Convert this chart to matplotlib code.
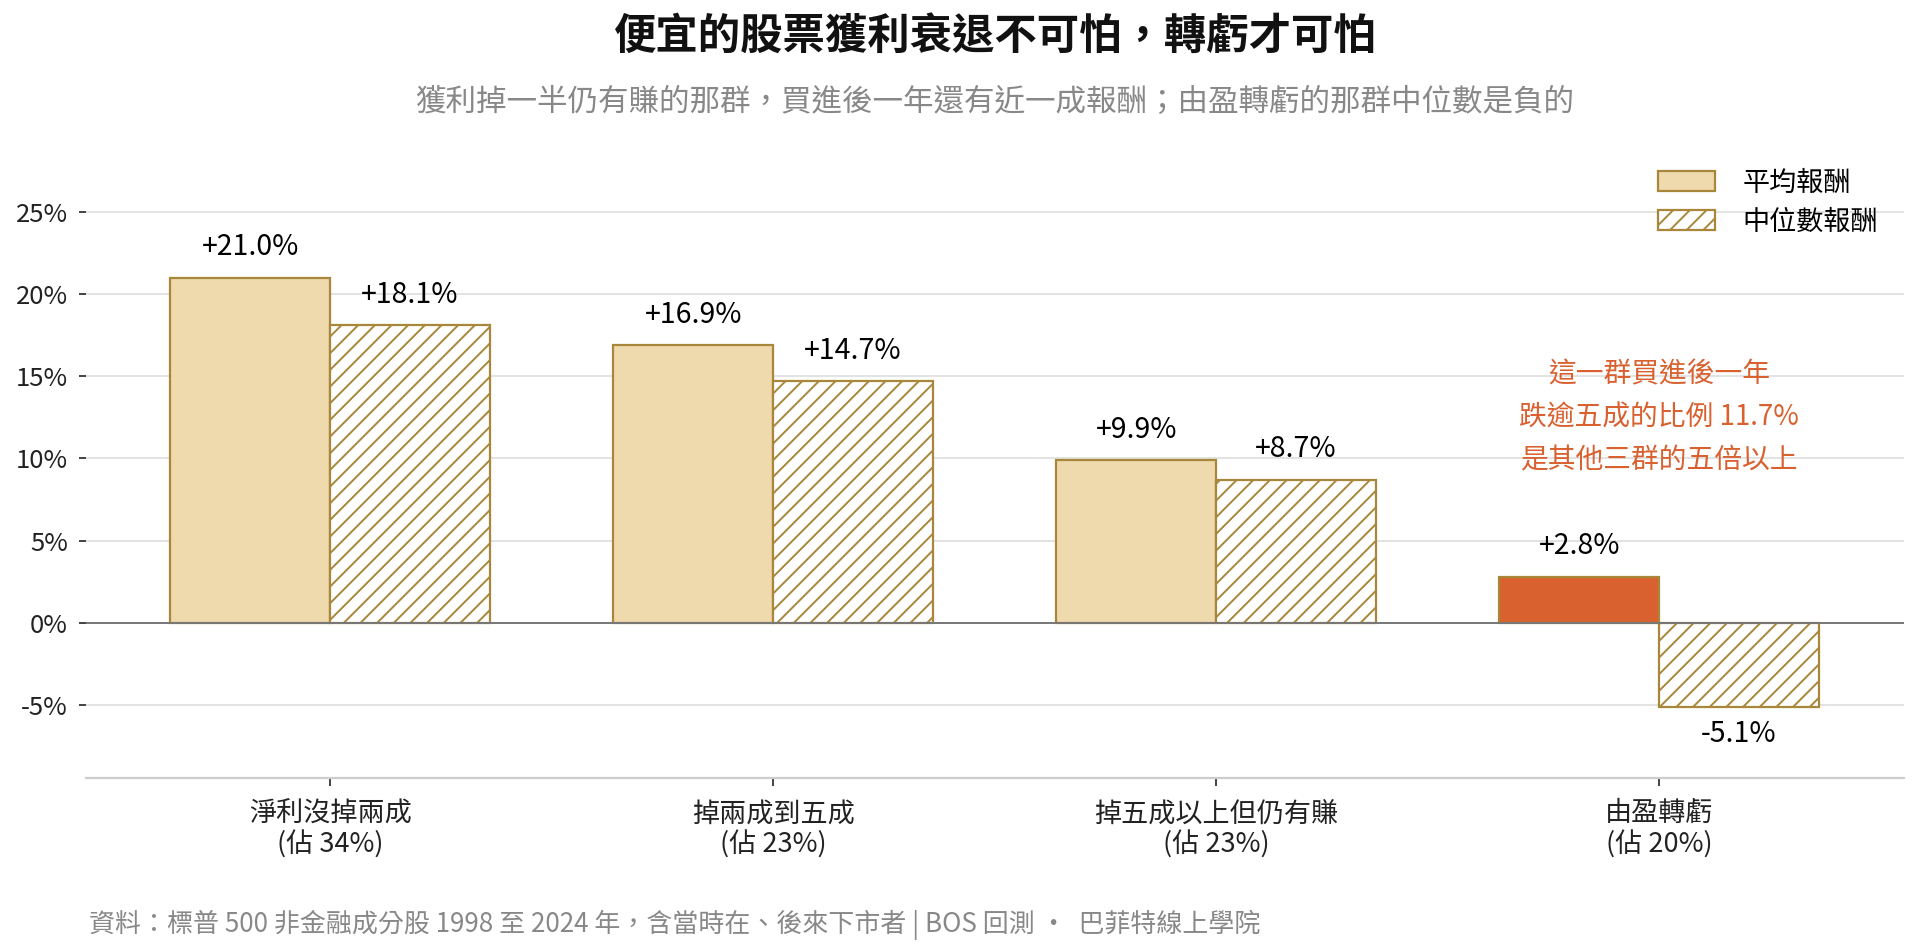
import matplotlib.pyplot as plt
import numpy as np

plt.rcParams['font.family'] = ['Noto Sans CJK TC', 'DejaVu Sans']
plt.rcParams['hatch.linewidth'] = 1.4

# datos
grupos = ['淨利沒掉兩成\n(佔 34%)', '掉兩成到五成\n(佔 23%)', '掉五成以上但仍有賺\n(佔 23%)', '由盈轉虧\n(佔 20%)']
media = [21.0, 16.9, 9.9, 2.8]
mediana = [18.1, 14.7, 8.7, -5.1]
yticks = [-5, 0, 5, 10, 15, 20, 25]

oro = '#A8863A'
beige = '#EFDAAE'
naranja = '#D8612F'

fig = plt.figure(figsize=(19.2, 9.52), dpi=100)
ax = fig.add_axes([0.0448, 0.1828, 0.9469, 0.6463])

x = np.arange(len(grupos))
ancho = 0.361

colores = [beige] * (len(media) - 1) + [naranja]
b1 = ax.bar(x - ancho / 2, media, width=ancho, color=colores, edgecolor=oro, linewidth=1.6,
            label='平均報酬', zorder=3)
b2 = ax.bar(x + ancho / 2, mediana, width=ancho, color='white', edgecolor=oro, linewidth=1.6,
            hatch='//', label='中位數報酬', zorder=3)

# etiquetas de valor
for xi, v in zip(x - ancho / 2, media):
    ax.annotate(f'{v:+.1f}%', (xi, v), xytext=(0, 22), textcoords='offset points',
                ha='center', va='center', fontsize=20.5)
for xi, v in zip(x + ancho / 2, mediana):
    off = 22 if v >= 0 else -20
    ax.annotate(f'{v:+.1f}%', (xi, v), xytext=(0, off), textcoords='offset points',
                ha='center', va='center', fontsize=20.5)

ax.axhline(0, color='#777777', linewidth=1.4, zorder=4)

ax.set_xlim(-0.551, 3.553)
ax.set_ylim(-9.45, 28)
ax.set_yticks(yticks)
ax.set_yticklabels([f'{t}%' for t in yticks])
ax.set_xticks(x)
ax.set_xticklabels(grupos, fontsize=19.5, linespacing=1.15)
ax.tick_params(axis='y', labelsize=18.5, length=5, width=1.2, pad=8, colors='#222222')
ax.tick_params(axis='x', length=6, width=1.2, pad=10, colors='#222222')
ax.grid(axis='y', color='#e0e0e0', linewidth=1.3, zorder=0)
ax.set_axisbelow(True)
for s in ['left', 'top', 'right']:
    ax.spines[s].set_visible(False)
ax.spines['bottom'].set_color('#cccccc')
ax.spines['bottom'].set_linewidth(1.6)

ax.text(3, 12.5, '這一群買進後一年\n跌逾五成的比例 11.7%\n是其他三群的五倍以上',
        ha='center', va='center', fontsize=20, color=naranja, linespacing=1.55)

ax.legend(loc='upper right', bbox_to_anchor=(0.978, 0.822), bbox_transform=fig.transFigure,
          frameon=False, fontsize=19.5, handlelength=2.1, handleheight=0.75, handletextpad=1.0,
          labelspacing=0.45, borderpad=0, borderaxespad=0)

# títulos centrados sobre el área del gráfico
xc = 0.0448 + 0.9469 / 2
fig.text(xc, 0.960, '便宜的股票獲利衰退不可怕，轉虧才可怕', ha='center', va='center',
         fontsize=30.5, fontweight='bold', color='#111111')
fig.text(xc, 0.892, '獲利掉一半仍有賺的那群，買進後一年還有近一成報酬；由盈轉虧的那群中位數是負的',
         ha='center', va='center', fontsize=22, color='#888888')
fig.text(0.0464, 0.028, '資料：標普 500 非金融成分股 1998 至 2024 年，含當時在、後來下市者 | BOS 回測 ·  巴菲特線上學院',
         ha='left', va='center', fontsize=18.7, color='#888888')

fig.savefig('out.png', dpi=100)
